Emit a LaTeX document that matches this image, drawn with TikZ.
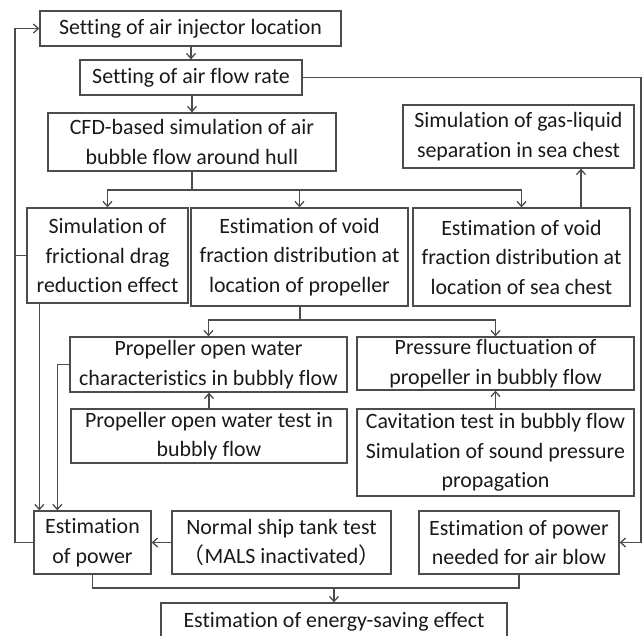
\documentclass[tikz,border=0pt]{standalone}
\usepackage{fontspec}
\setmainfont{Carlito}[Ligatures=NoCommon]
\newfontfamily\cjkfont{Noto Sans CJK JP}
\usetikzlibrary{arrows.meta}

\begin{document}
\begin{tikzpicture}[x=1pt, y=-1pt,
  box/.style={draw=black!70, line width=1.3pt, align=center, inner sep=0pt,
    text=black!90, font=\fontsize{21.9}{29.5}\selectfont},
  link/.style={draw=black!70, line width=1.3pt},
  arr/.style={link, -{Straight Barb[length=5pt,width=9pt]}}]

\clip (0,0) rectangle (643,635);

% top chain
\node[box, minimum width=301, minimum height=35] (inject) at (190.5,28.5) {Setting of air injector location};
\node[box, minimum width=222, minimum height=35] (flowrate) at (191,77.5) {Setting of air flow rate};
\node[box, minimum width=288, minimum height=58] (cfd) at (192,142) {CFD-based simulation of air\\bubble flow around hull};
\node[box, minimum width=231, minimum height=63] (gasliq) at (518.5,136.5) {Simulation of gas-liquid\\separation in sea chest};

% second row
\node[box, minimum width=161, minimum height=95] (drag) at (107.5,255.5) {Simulation of\\frictional drag\\reduction effect};
\node[box, minimum width=217, minimum height=98] (voidprop) at (299.5,257) {Estimation of void\\fraction distribution at\\location of propeller};
\node[box, minimum width=217, minimum height=98] (voidsea) at (521.5,257) {Estimation of void\\fraction distribution at\\location of sea chest};

% propeller rows
\node[box, minimum width=277, minimum height=55] (powc) at (208.5,364.5) {Propeller open water\\characteristics in bubbly flow};
\node[box, minimum width=277, minimum height=53] (pfluct) at (495.5,363.5) {Pressure fluctuation of\\propeller in bubbly flow};
\node[box, minimum width=276, minimum height=54] (powtest) at (209,436) {Propeller open water test in\\bubbly flow};
\node[box, minimum width=277, minimum height=87] (cavit) at (495.5,452.5) {Cavitation test in bubbly flow\\Simulation of sound pressure\\propagation};

% bottom
\node[box, minimum width=117, minimum height=63] (power) at (92.5,542.5) {Estimation\\of power};
\node[box, minimum width=219, minimum height=63] (tank) at (281.5,542.5) {Normal ship tank test\\{\cjkfont （}MALS inactivated{\cjkfont ）}};
\node[box, minimum width=200, minimum height=63] (blow) at (519,542.5) {Estimation of power\\needed for air blow};
\node[box, minimum width=346, minimum height=38] (saving) at (334,622) {Estimation of energy-saving effect};

\coordinate (lloop) at (15,0);
\coordinate (rloop) at (641,0);
\coordinate (split1) at (192,190);
\coordinate (split2) at (300,320);
\coordinate (join) at (334,588);

\draw[arr] (inject.south -| flowrate) -- (flowrate.north);
\draw[arr] (flowrate.south -| cfd) -- (cfd.north);

\draw[link] (cfd.south) -- (split1);
\draw[arr] (split1) -| (drag.north);
\draw[arr] (split1) -| (voidprop.north);
\draw[arr] (split1) -| (voidsea.north);
\draw[arr] ([xshift=59.5]voidsea.north) -- ([xshift=59.5]voidsea.north |- gasliq.south);

\draw[link] (voidprop.south -| split2) -- (split2);
\draw[arr] (split2) -| (powc.north);
\draw[arr] (split2) -| (pfluct.north);
\draw[arr] (powtest.north) -- (powtest.north |- powc.south);
\draw[arr] (cavit.north -| pfluct) -- (pfluct.south);

% loops at the sides
\draw[arr] (power.west) -| (lloop |- inject.west) -- (inject.west);
\draw[link] (drag.west) -- (lloop |- drag.west);
\draw[arr] (flowrate.east) -| (rloop |- blow.east) -- (blow.east);

\draw[arr] ([xshift=13]drag.south west) -- ([xshift=13]drag.south west |- power.north);
\draw[arr] (powc.west) -| ([xshift=24]power.north west);
\draw[arr] (tank.west) -- (power.east);

\draw[link] (power.south) |- (join) -| (blow.south);
\draw[arr] (join) -- (saving.north);

\end{tikzpicture}
\end{document}
